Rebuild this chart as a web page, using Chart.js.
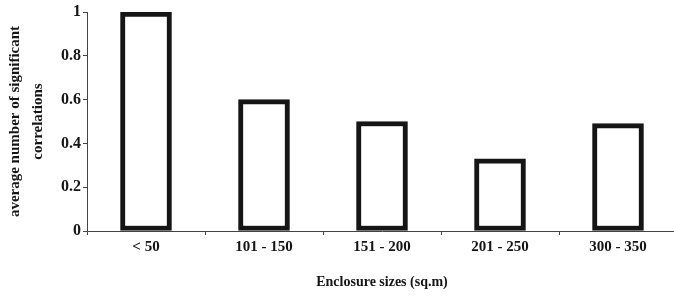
<!DOCTYPE html>
<html>
<head>
<meta charset="utf-8">
<script src="https://cdn.jsdelivr.net/npm/chart.js@4/dist/chart.umd.min.js"></script>
<style>
  html, body { margin: 0; padding: 0; background: #fff; overflow: hidden; }
  #wrap { width: 680px; height: 299px; }
</style>
</head>
<body>
<div id="wrap"><canvas id="corrChart" width="680" height="299"></canvas></div>
<script>
// enclosure size classes and average number of significant correlations
const categories = ['< 50', '101 - 150', '151 - 200', '201 - 250', '300 - 350'];
const avgCorrelations = [1, 0.6, 0.5, 0.33, 0.49];
const yTickValues = [0, 0.2, 0.4, 0.6, 0.8, 1];

const ink = '#151515';
const serif = 'Liberation Serif, "Times New Roman", serif';

const ctx = document.getElementById('corrChart').getContext('2d');

new Chart(ctx, {
  type: 'bar',
  data: {
    labels: categories,
    datasets: [
      {
        data: avgCorrelations,
        backgroundColor: '#ffffff',
        borderColor: ink,
        borderWidth: 5,
        borderSkipped: false,
        barThickness: 51,
      },
    ],
  },
  options: {
    responsive: false,
    animation: false,
    layout: { padding: { top: 12, right: 3, left: 0, bottom: 0 } },
    plugins: {
      legend: { display: false },
      tooltip: { enabled: false },
    },
    scales: {
      x: {
        offset: true,
        grid: {
          offset: true,
          drawOnChartArea: false,
          tickLength: 4,
          color: '#444',
        },
        border: { color: '#444', width: 1 },
        ticks: {
          color: ink,
          padding: 3,
          font: { family: serif, size: 15, weight: 'bold' },
        },
        title: {
          display: true,
          text: 'Enclosure sizes (sq.m)',
          color: ink,
          padding: { top: 10, bottom: 8 },
          font: { family: serif, size: 14, weight: 'bold' },
        },
        afterFit: (axis) => { axis.height = 68; },
      },
      y: {
        min: 0,
        max: 1,
        afterBuildTicks: (axis) => {
          axis.ticks = yTickValues.map((v) => ({ value: v }));
        },
        grid: {
          drawOnChartArea: false,
          tickLength: 4,
          color: '#444',
        },
        border: { color: '#444', width: 1 },
        ticks: {
          color: ink,
          padding: 2,
          font: { family: serif, size: 16, weight: 'bold' },
          callback: (v) => String(+v.toFixed(1)),
        },
        title: {
          display: true,
          text: ['average number of significant', 'correlations'],
          color: ink,
          padding: { top: 4, bottom: 0 },
          font: { family: serif, size: 15, weight: 'bold', lineHeight: 1.53 },
        },
        afterFit: (axis) => { axis.width = 87; },
      },
    },
  },
});
</script>
</body>
</html>
